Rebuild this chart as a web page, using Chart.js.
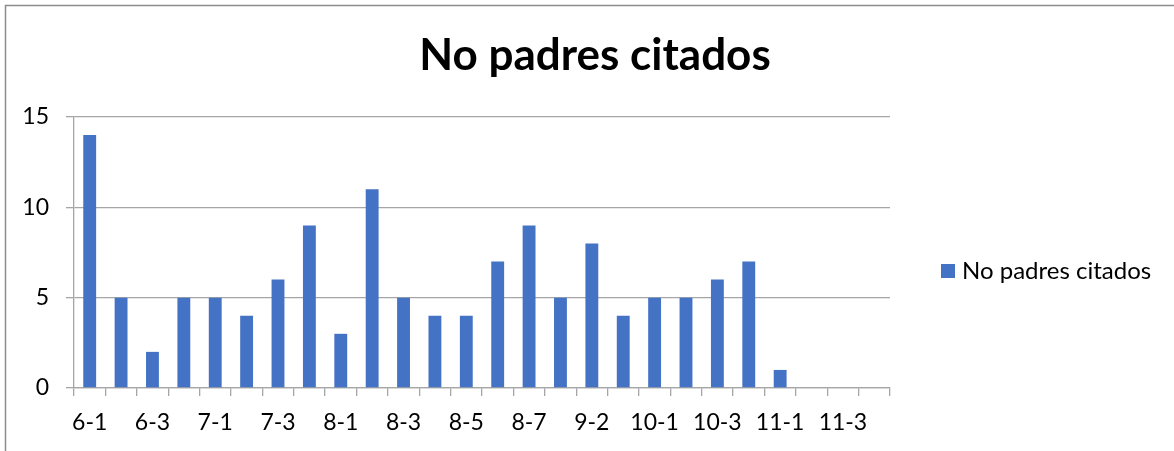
<!DOCTYPE html>
<html>
<head>
<meta charset="utf-8">
<script src="https://cdn.jsdelivr.net/npm/chart.js@4.4.0/dist/chart.umd.min.js"></script>
<style>
html,body{margin:0;padding:0;background:#fff;}
#wrap{width:1174px;height:451px;position:relative;}
</style>
</head>
<body>
<div id="wrap"><canvas id="c" width="1174" height="451"></canvas></div>
<script>
const chartTitle = "No padres citados";
const seriesName = "No padres citados";
const categories = ["6-1","6-2","6-3","6-4","7-1","7-2","7-3","7-4","8-1","8-2","8-3","8-4","8-5","8-6","8-7","9-1","9-2","9-3","10-1","10-2","10-3","10-4","11-1","11-2","11-3","11-4"];
const values = [14,5,2,5,5,4,6,9,3,11,5,4,4,7,9,5,8,4,5,5,6,7,1,0,0,0];
const yTicks = [0,5,10,15];

const FONT = "Lato, 'Open Sans', sans-serif";
const barColor = "#4472C4";
const gridColor = "#a6a6a6";

const decor = {
  id: 'decor',
  afterDraw(chart) {
    const ctx = chart.ctx;
    ctx.save();
    // outer frame
    ctx.strokeStyle = "#8c8c8c";
    ctx.lineWidth = 1.5;
    ctx.beginPath();
    ctx.moveTo(5.5, 460);
    ctx.lineTo(5.5, 5.5);
    ctx.lineTo(1180, 5.5);
    ctx.stroke();
    // title
    ctx.fillStyle = "#000";
    ctx.font = "bold 44px " + FONT;
    ctx.textAlign = "center";
    ctx.textBaseline = "middle";
    ctx.fillText(chartTitle, 595, 56);
    // legend
    const ds = chart.data.datasets[0];
    ctx.fillStyle = ds.backgroundColor;
    ctx.fillRect(941, 264, 14, 14);
    ctx.fillStyle = "#000";
    ctx.font = "24px " + FONT;
    ctx.textAlign = "left";
    ctx.fillText(ds.label, 962, 271);
    ctx.restore();
  }
};

new Chart(document.getElementById('c'), {
  type: 'bar',
  data: {
    labels: categories,
    datasets: [{
      label: seriesName,
      data: values,
      backgroundColor: barColor,
      borderWidth: 0,
      barPercentage: 0.82,
      categoryPercentage: 0.5
    }]
  },
  options: {
    responsive: false,
    animation: false,
    layout: { padding: { left: 0, right: 284, top: 117, bottom: 0 } },
    plugins: { legend: { display: false }, title: { display: false }, tooltip: { enabled: false } },
    scales: {
      x: {
        afterFit(s) { s.height = 63; },
        grid: { display: true, drawOnChartArea: false, drawTicks: true, tickLength: 8, color: gridColor, lineWidth: 1.3, offset: true },
        border: { display: true, color: gridColor, width: 1.3 },
        ticks: {
          autoSkip: false, maxRotation: 0, minRotation: 0, padding: 13,
          color: "#000", font: { family: FONT, size: 23 },
          callback(v, i) { return i % 2 === 0 ? categories[i] : ''; }
        }
      },
      y: {
        min: 0, max: 15,
        afterFit(s) { s.width = 74; },
        afterBuildTicks(s) { s.ticks = yTicks.map(v => ({ value: v })); },
        grid: { display: true, drawTicks: true, tickLength: 8, color: gridColor, lineWidth: 1.3 },
        border: { display: true, color: gridColor, width: 1.3 },
        ticks: { padding: 17, color: "#000", font: { family: FONT, size: 23 } }
      }
    }
  },
  plugins: [decor]
});
</script>
</body>
</html>
